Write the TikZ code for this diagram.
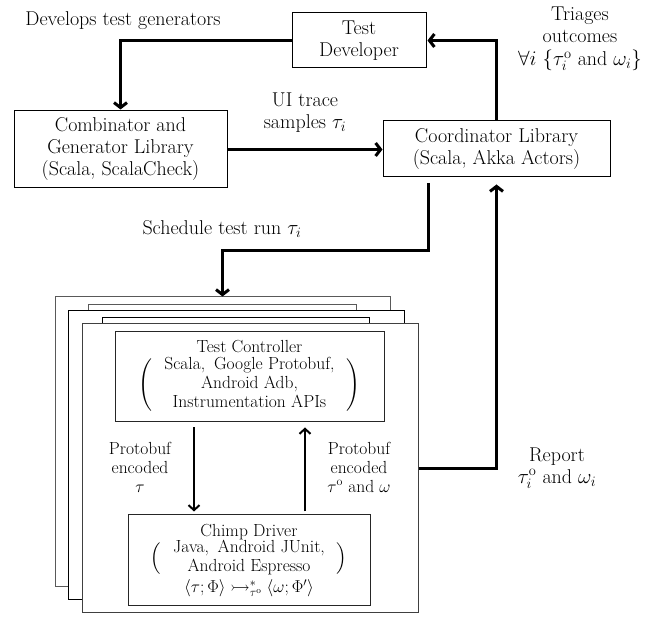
\documentclass[tikz,border=0pt]{standalone}
\usepackage{amssymb}
\usetikzlibrary{arrows.meta}
\newcommand{\lparen}[1]{\left(\vcenter{\hbox{\rule{0pt}{#1}}}\right.}
\newcommand{\rparen}[1]{\left.\vcenter{\hbox{\rule{0pt}{#1}}}\right)}
\begin{document}
\begin{tikzpicture}[x=1pt,y=-1pt,
  lab/.style={font=\fontsize{20}{22}\selectfont, align=center, inner sep=0pt},
  inlab/.style={font=\fontsize{17.5}{19}\selectfont, align=center, inner sep=0pt},
  box/.style={draw=black, line width=1pt, fill=white, align=center, inner sep=0pt, font=\fontsize{20}{22}\selectfont},
  inbox/.style={draw=black!85, line width=1pt, fill=white, align=center, inner sep=0pt, font=\fontsize{17.5}{19}\selectfont},
  layer/.style={draw=#1, line width=1pt, fill=white, inner sep=0pt},
  bigarrow/.style={line width=3pt, -{Straight Barb[length=5pt,width=13pt]}},
  smallarrow/.style={line width=2pt, -{Straight Barb[length=5pt,width=11pt]}}]
\useasboundingbox (0,0) rectangle (657,617);

% top boxes
\node[box, minimum width=134pt, minimum height=55pt] (dev) at (359,40.5) {Test\\Developer};
\node[box, minimum width=213pt, minimum height=77pt] (comb) at (120.5,149.5) {Combinator and\\Generator Library\\(Scala, ScalaCheck)};
\node[box, minimum width=227pt, minimum height=56pt] (coord) at (496.5,149) {Coordinator Library\\(Scala, Akka Actors)};

% stack of devices
\node[layer=black!65, minimum width=335pt, minimum height=290pt] (s1) at (222.5,442) {};
\node[layer=black!65, minimum width=268pt, minimum height=285pt] (s2) at (222,447.5) {};
\node[layer=black, minimum width=336pt, minimum height=289pt] (s3) at (236,455.5) {};
\node[layer=black, minimum width=267pt, minimum height=282pt] (s4) at (235.5,459) {};
\node[layer=black!75, minimum width=336pt, minimum height=289pt] (s5) at (250,468.5) {};

\node[inbox, minimum width=269pt, minimum height=90pt] (tc) at (249.5,377)
  {Test Controller\\[2pt]$\lparen{47pt}\begin{tabular}{@{\hspace{8pt}}c@{\hspace{8pt}}}Scala,\enspace Google Protobuf,\\Android Adb,\\Instrumentation APIs\end{tabular}\rparen{47pt}$};
\node[inbox, minimum width=242pt, minimum height=91pt] (chimp) at (249,560.5)
  {Chimp Driver\\[-1pt]$\lparen{31pt}\begin{tabular}{@{\hspace{8pt}}c@{\hspace{8pt}}}Java,\enspace Android JUnit,\\Android Espresso\end{tabular}\rparen{31pt}$\\[1pt]$\langle\tau;\Phi\rangle\rightarrowtail^{*}_{\tau^{\mathrm{o}}}\langle\omega;\Phi'\rangle$};

% labels
\node[lab] (ldev) at (123,21) {Develops test generators};
\node[lab] (ltri) at (580,39) {Triages\\outcomes\\[1pt]$\forall i\ \{\tau_i^{\mathrm{o}}$ and $\omega_i\}$};
\node[lab] (lui) at (305,113) {UI trace\\samples $\tau_i$};
\node[lab] (lsch) at (222,229) {Schedule test run $\tau_i$};
\node[lab] (lrep) at (557,468) {Report\\$\tau_i^{\mathrm{o}}$ and $\omega_i$};
\node[inlab] (lpl) at (140,467) {Protobuf\\encoded\\$\tau$};
\node[inlab] (lpr) at (359,467) {Protobuf\\encoded\\$\tau^{\mathrm{o}}$ and $\omega$};

% connectors
\coordinate (schedA) at (428,183);
\coordinate (schedB) at (428,251);
\coordinate (repB) at (496.5,468.5);
\draw[bigarrow, shorten >=1pt] (dev.west) -| (comb.north);
\draw[bigarrow] (comb.east) -- (comb.east -| coord.west);
\draw[bigarrow, shorten >=1pt] (coord.north) |- (dev.east);
\draw[bigarrow] (schedA) -- (schedB) -| (s1.north);
\draw[bigarrow, shorten >=7pt] (s5.east) -- (repB) -- (coord.south);
\draw[smallarrow] ([xshift=-55.5pt,yshift=-5pt]tc.south) -- ([xshift=-55pt,yshift=3pt]chimp.north);
\draw[smallarrow] ([xshift=56pt,yshift=3pt]chimp.north) -- ([xshift=55.5pt,yshift=-5pt]tc.south);
\end{tikzpicture}
\end{document}
